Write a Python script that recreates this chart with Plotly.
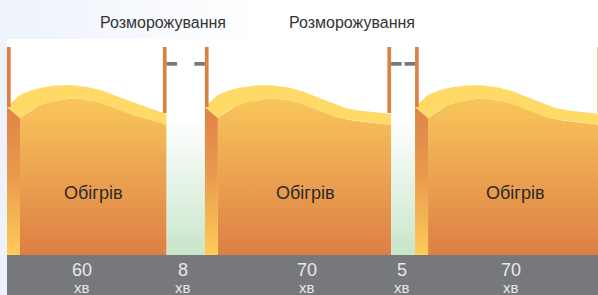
import numpy as np
import plotly.graph_objects as go

# ---------------- data ----------------
phases = ["Обігрів", "Розморожування", "Обігрів", "Розморожування", "Обігрів"]
durations = [60, 8, 70, 5, 70]          # minutes
unit_label = "хв"
heat_name = "Обігрів"
defrost_name = "Розморожування"

# ---------------- style / layout ----------------
W, H = 598, 295
PX_PER_UNIT = 2.66          # drawing scale (pixels per minute)
LEFT_PX = 7                 # left edge of the diagram
DEFROST_STRETCH = 1.8       # defrost phases drawn enlarged for legibility
P = 1.0 / PX_PER_UNIT       # one pixel expressed in x-units
X_MIN = -LEFT_PX * P
X_MAX = (W - LEFT_PX) * P

Y_PANEL_TOP, Y_FLOOR, Y_BOTTOM = 39, 255, 295
Y_POST_TOP = 47
FACE = 13                   # depth of the 3D left face, px
POST_W = 3.7
DASH_LEN, DASH_Y0, DASH_Y1 = 10.5, 62, 65.7

# wave profile of the top surface (px offsets from block start, y in px)
TOP_D = [0, 13, 33, 60, 90, 120, 145]
TOP_Y = [107, 95, 88, 85, 89, 100, 109]
TOP_END = 114
LOW_D = [13, 33, 60, 75, 95, 123, 145]
LOW_Y = [118, 105, 99, 99, 103, 114, 120]
LOW_END = 125

C_POST = "#DE8046"
C_GRAY = "#76787B"
C_TOPBAND = "#FFDA66"
BODY_SCALE = [[0, "#FAC75B"], [1, "#DD7F45"]]
FACE_SCALE = [[0, "#DF8448"], [0.45, "#E99A4D"], [1, "#FDCB58"]]
DEFROST_SCALE = [[0, "#FFFFFF"], [1, "#C8E5CA"]]
FONT = "Liberation Sans"
TITLE_SHIFT = [-23, -51]
NUM_SHIFT = [-5, -3, 9, -1, 3]


def catmull(xs, ys, n=14):
    pts = list(zip(xs, ys))
    ext = [pts[0]] + pts + [pts[-1]]
    ox, oy = [], []
    for i in range(1, len(ext) - 2):
        p0, p1, p2, p3 = (np.array(ext[i - 1]), np.array(ext[i]),
                          np.array(ext[i + 1]), np.array(ext[i + 2]))
        for t in np.linspace(0, 1, n, endpoint=False):
            t2, t3 = t * t, t * t * t
            pt = 0.5 * ((2 * p1) + (-p0 + p2) * t +
                        (2 * p0 - 5 * p1 + 4 * p2 - p3) * t2 +
                        (-p0 + 3 * p1 - 3 * p2 + p3) * t3)
            ox.append(pt[0]); oy.append(pt[1])
    ox.append(pts[-1][0]); oy.append(pts[-1][1])
    return ox, oy


# segment extents in x-units, derived from the durations
is_defrost = [p == defrost_name for p in phases]
widths = [d * (DEFROST_STRETCH if f else 1.0) for d, f in zip(durations, is_defrost)]
starts = np.concatenate([[0.0], np.cumsum(widths)[:-1]])
ends = starts + np.array(widths)

fig = go.Figure()

# page background (faint blue on the left, fading to white)
fig.add_trace(go.Scatter(
    x=[X_MIN, X_MAX, X_MAX, X_MIN, X_MIN], y=[0, 0, H, H, 0],
    mode="lines", line=dict(width=0), fill="toself",
    fillgradient=dict(type="horizontal", colorscale=[[0, "#EDF2FB"], [1, "#FFFFFF"]],
                      start=X_MIN, stop=X_MIN + 260 * P),
    hoverinfo="skip", showlegend=False))
# white panel
fig.add_trace(go.Scatter(
    x=[0, X_MAX, X_MAX, 0, 0], y=[Y_PANEL_TOP, Y_PANEL_TOP, Y_FLOOR, Y_FLOOR, Y_PANEL_TOP],
    mode="lines", line=dict(width=0), fill="toself", fillcolor="#FFFFFF",
    hoverinfo="skip", showlegend=False))

shapes = []
annotations = []

for i, (ph, d, a, b) in enumerate(zip(phases, durations, starts, ends)):
    if is_defrost[i]:
        fig.add_trace(go.Scatter(
            x=[a, b, b, a, a], y=[Y_PANEL_TOP, Y_PANEL_TOP, Y_FLOOR, Y_FLOOR, Y_PANEL_TOP],
            mode="lines", line=dict(width=0), fill="toself",
            fillgradient=dict(type="vertical", colorscale=DEFROST_SCALE, start=118, stop=Y_FLOOR),
            hoverinfo="skip", showlegend=False))
        for x0, x1 in [(a, a + DASH_LEN * P), (b - DASH_LEN * P, b)]:
            shapes.append(dict(type="rect", xref="x", yref="y", x0=x0, x1=x1,
                               y0=DASH_Y0, y1=DASH_Y1, line=dict(width=0),
                               fillcolor=C_GRAY, layer="above"))
        annotations.append(dict(x=(a + b) / 2, y=22, text=ph, showarrow=False,
                                xshift=TITLE_SHIFT[sum(is_defrost[:i])],
                                font=dict(family=FONT, size=16, color="#333333")))
    else:
        tx, ty = catmull([a + o * P for o in TOP_D] + [b], TOP_Y + [TOP_END])
        lx, ly = catmull([a + o * P for o in LOW_D] + [b], LOW_Y + [LOW_END])
        # body (front face)
        bx = lx + [b, a + FACE * P, lx[0]]
        by = ly + [Y_FLOOR, Y_FLOOR, ly[0]]
        fig.add_trace(go.Scatter(
            x=bx, y=by, mode="lines", line=dict(width=0), fill="toself",
            fillgradient=dict(type="vertical", colorscale=BODY_SCALE, start=95, stop=Y_FLOOR),
            hoverinfo="skip", showlegend=False))
        # left 3D face
        fig.add_trace(go.Scatter(
            x=[a, a + FACE * P, a + FACE * P, a, a], y=[TOP_Y[0], LOW_Y[0], Y_FLOOR, Y_FLOOR, TOP_Y[0]],
            mode="lines", line=dict(width=0), fill="toself",
            fillgradient=dict(type="vertical", colorscale=FACE_SCALE, start=TOP_Y[0], stop=Y_FLOOR),
            hoverinfo="skip", showlegend=False))
        # wavy top surface
        fig.add_trace(go.Scatter(
            x=tx + lx[::-1] + [tx[0]], y=ty + ly[::-1] + [ty[0]],
            mode="lines", line=dict(width=0), fill="toself", fillcolor=C_TOPBAND,
            hoverinfo="skip", showlegend=False))
        # posts
        shapes.append(dict(type="rect", xref="x", yref="y", x0=a, x1=a + POST_W * P,
                           y0=Y_POST_TOP, y1=TOP_Y[0], line=dict(width=0),
                           fillcolor=C_POST, layer="above"))
        shapes.append(dict(type="rect", xref="x", yref="y", x0=b - POST_W * P, x1=b,
                           y0=Y_POST_TOP, y1=TOP_END - 1, line=dict(width=0),
                           fillcolor=C_POST, layer="above"))
        annotations.append(dict(x=(a + FACE * P + b) / 2, y=193, text=ph, showarrow=False,
                                font=dict(family=FONT, size=18, color="#2a2a2a")))
    # duration labels in the grey strip
    cx = (a + b) / 2
    annotations.append(dict(x=cx, y=270, text=str(d), showarrow=False, xshift=NUM_SHIFT[i],
                            height=16, valign="middle",
                            font=dict(family=FONT, size=18, color="#E9E9E9")))
    annotations.append(dict(x=cx, y=286.5, text=unit_label, showarrow=False, xshift=NUM_SHIFT[i],
                            height=12, valign="middle",
                            font=dict(family=FONT, size=15, color="#E9E9E9")))

# grey time strip
shapes.insert(0, dict(type="rect", xref="x", yref="y", x0=0, x1=X_MAX + 5,
                      y0=Y_FLOOR, y1=H + 5, line=dict(width=0),
                      fillcolor=C_GRAY, layer="above"))

fig.update_layout(
    width=W, height=H, margin=dict(l=0, r=0, t=0, b=0),
    paper_bgcolor="#FFFFFF", plot_bgcolor="#FFFFFF",
    xaxis=dict(range=[X_MIN, X_MAX], visible=False, fixedrange=True),
    yaxis=dict(range=[H, 0], visible=False, fixedrange=True),
    shapes=shapes, annotations=annotations, showlegend=False,
    hovermode=False,
)

fig.write_html("out.html", config={"displayModeBar": False, "staticPlot": True},
               post_script="document.body.style.margin='0px';document.body.style.overflow='hidden';")
